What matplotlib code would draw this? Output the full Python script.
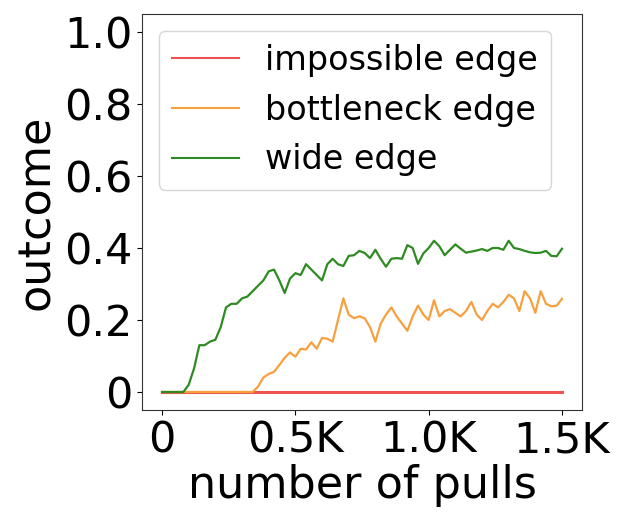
import numpy as np
import matplotlib.pyplot as plt
from matplotlib.ticker import FuncFormatter

# number of pulls (sampled every 20 pulls)
pulls = np.arange(0, 1501, 20)

impossible = [0.0] * len(pulls)

bottleneck = [
    0, 0, 0, 0, 0, 0, 0, 0, 0, 0,
    0, 0, 0, 0, 0, 0, 0, 0, 0.015, 0.04,
    0.05, 0.056, 0.075, 0.095, 0.11, 0.098, 0.12, 0.118, 0.138, 0.12,
    0.15, 0.148, 0.14, 0.2, 0.26, 0.215, 0.205, 0.21, 0.205, 0.18,
    0.14, 0.19, 0.215, 0.235, 0.21, 0.19, 0.17, 0.21, 0.24, 0.215,
    0.2, 0.255, 0.21, 0.225, 0.23, 0.22, 0.21, 0.225, 0.25, 0.215,
    0.2, 0.225, 0.245, 0.235, 0.25, 0.27, 0.26, 0.225, 0.28, 0.26,
    0.22, 0.28, 0.245, 0.238, 0.24, 0.259,
]

wide = [
    0, 0, 0, 0, 0, 0.02, 0.065, 0.13, 0.13, 0.14,
    0.145, 0.18, 0.235, 0.245, 0.245, 0.26, 0.265, 0.28, 0.295, 0.31,
    0.335, 0.34, 0.31, 0.275, 0.315, 0.33, 0.325, 0.355, 0.34, 0.325,
    0.31, 0.355, 0.37, 0.355, 0.35, 0.378, 0.38, 0.392, 0.386, 0.372,
    0.395, 0.37, 0.348, 0.37, 0.372, 0.37, 0.408, 0.4, 0.356, 0.385,
    0.4, 0.42, 0.405, 0.38, 0.395, 0.41, 0.398, 0.387, 0.39, 0.393,
    0.397, 0.392, 0.4, 0.4, 0.395, 0.42, 0.4, 0.397, 0.392, 0.388,
    0.386, 0.387, 0.392, 0.378, 0.377, 0.398,
]

fig = plt.figure(figsize=(6.21, 5.13), dpi=100)
ax = fig.add_axes([0.2287, 0.2008, 0.7085, 0.7719])

ax.plot(pulls, impossible, color='#ef5350', lw=2.2, label='impossible edge')
ax.plot(pulls, bottleneck, color='#f7a040', lw=1.6, label='bottleneck edge')
ax.plot(pulls, wide, color='#2e8b22', lw=1.6, label='wide edge')

ax.set_ylim(-0.05, 1.05)
ax.set_xticks([0, 500, 1000, 1500])
ax.set_yticks([0, 0.2, 0.4, 0.6, 0.8, 1.0])
ax.xaxis.set_major_formatter(FuncFormatter(lambda v, p: '0' if v == 0 else f'{v/1000:.1f}K'))
ax.yaxis.set_major_formatter(FuncFormatter(lambda v, p: '0' if v == 0 else f'{v:.1f}'))
ax.tick_params(labelsize=31)
for s in ax.spines.values():
    s.set_color('#333333')
ax.set_xlabel('number of pulls', fontsize=32, labelpad=2)
ax.set_ylabel('outcome', fontsize=32, labelpad=4)
leg = ax.legend(loc='upper left', fontsize=24)
for h in leg.get_lines():
    h.set_linewidth(1.5)

fig.savefig('out.png', dpi=100)
